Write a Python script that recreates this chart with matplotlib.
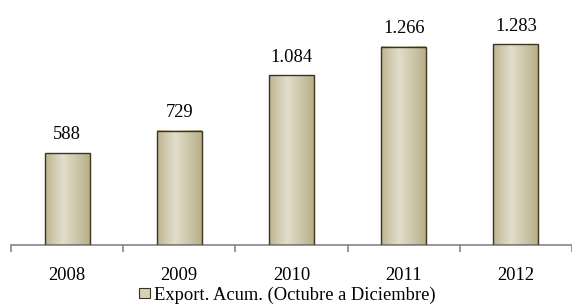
import matplotlib
matplotlib.use("Agg")
import matplotlib.pyplot as plt
import numpy as np
from matplotlib.colors import LinearSegmentedColormap
from matplotlib.patches import Rectangle
from matplotlib.legend_handler import HandlerPatch

years = ["2008", "2009", "2010", "2011", "2012"]
values = [588, 729, 1084, 1266, 1283]
labels = ["588", "729", "1.084", "1.266", "1.283"]
series_name = "Export. Acum. (Octubre a Diciembre)"

plt.rcParams['font.family'] = ['Liberation Serif', 'DejaVu Serif']
FS = 13.3

fig = plt.figure(figsize=(5.72, 3.05), dpi=100)
ax = fig.add_axes([11/572, 60/305, 561/572, 219/305])

x = np.arange(len(years))
cmap = LinearSegmentedColormap.from_list(
    "g", [(0, "#bdb48e"), (0.4, "#e2decc"), (1, "#b8af88")])
bars = ax.bar(x, values, width=0.4, color="none", edgecolor="#3a3520", linewidth=1.0, zorder=3)
grad = np.linspace(0, 1, 256).reshape(1, -1)
for b in bars:
    ax.imshow(grad, cmap=cmap, aspect="auto", zorder=2,
              extent=[b.get_x(), b.get_x() + b.get_width(), 0, b.get_height()])
for xi, v, lab in zip(x, values, labels):
    ax.annotate(lab, (xi, v), xytext=(0, 7), textcoords="offset points",
                ha="center", va="bottom", fontsize=FS)

ax.set_xlim(-0.5, len(years) - 0.5)
ax.set_ylim(0, 1400)
for s in ["top", "right", "left"]:
    ax.spines[s].set_visible(False)
ax.spines["bottom"].set_color("#868686")
ax.spines["bottom"].set_linewidth(1.2)
ax.set_yticks([])
ax.set_xticks(x)
ax.set_xticklabels(years, fontsize=FS)
ax.tick_params(axis="x", which="major", length=0, pad=16)
ax.set_xticks(np.arange(-0.5, len(years)), minor=True)
ax.tick_params(axis="x", which="minor", length=5, width=1.2, color="#868686", direction="out")

class GradHandler(HandlerPatch):
    def create_artists(self, legend, orig_handle, xdescent, ydescent, width, height, fontsize, trans):
        s = height * 0.8
        r = Rectangle((width - s - xdescent, (height - s) / 2 - ydescent), s, s,
                      facecolor="#d6d1b8", edgecolor="#3a3520", linewidth=0.8, transform=trans)
        return [r]

h = Rectangle((0, 0), 1, 1)
fig.legend([h], [series_name], loc="center", bbox_to_anchor=(0.5, 10/305),
           frameon=False, fontsize=FS, handler_map={Rectangle: GradHandler()},
           handlelength=0.7, handletextpad=0.2, borderpad=0, borderaxespad=0)

fig.savefig("out.png", dpi=100)
